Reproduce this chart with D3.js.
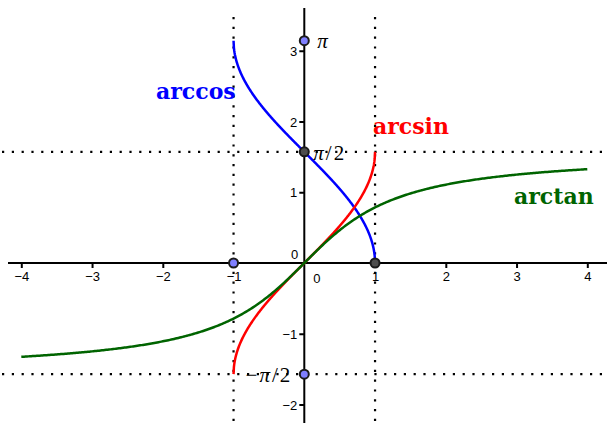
<!DOCTYPE html>
<html>
<head>
<meta charset="utf-8">
<script src="https://cdn.jsdelivr.net/npm/d3@7"></script>
<style>
  html, body { margin: 0; padding: 0; background: #fff; }
  svg { display: block; }
</style>
</head>
<body>
<svg id="chart" width="607" height="423"></svg>
<script>
// Sample abscissas for the inverse trig curves
const xsInner = d3.range(-1, 1.0001, 0.005).concat([1]).filter((v, i, a) => a.indexOf(v) === i);
const xsOuter = d3.range(-4, 4.0001, 0.02);
const xTicks = [-4, -3, -2, -1, 1, 2, 3, 4];
const yTicks = [-2, -1, 1, 2, 3];
const markedPoints = [
  { x: -1, y: 0, fill: "#7f7fff" },
  { x: 1, y: 0, fill: "#4d4d4d" },
  { x: 0, y: Math.PI, fill: "#7f7fff" },
  { x: 0, y: Math.PI / 2, fill: "#4d4d4d" },
  { x: 0, y: -Math.PI / 2, fill: "#7f7fff" }
];

const curves = [
  { name: "arccos", color: "#0000ff", f: Math.acos, xs: xsInner, label: [-2.096, 2.318] },
  { name: "arcsin", color: "#ff0000", f: Math.asin, xs: xsInner, label: [0.971, 1.823] },
  { name: "arctan", color: "#006400", f: Math.atan, xs: xsOuter, label: [2.964, 0.834] }
];

const svg = d3.select("#chart");
const W = 607, H = 423;
const unit = 70.75;
const ox = 304.3, oy = 263;
const x = d3.scaleLinear().domain([0, 1]).range([ox, ox + unit]);
const y = d3.scaleLinear().domain([0, 1]).range([oy, oy - unit]);

// dotted guide lines
const dots = svg.append("g").attr("stroke", "#000").attr("stroke-width", 2.2)
  .attr("stroke-dasharray", "2.2,7.6");
[-1, 1].forEach(v => dots.append("line")
  .attr("x1", x(v)).attr("x2", x(v)).attr("y1", 17).attr("y2", H));
[Math.PI / 2, -Math.PI / 2].forEach(v => dots.append("line")
  .attr("x1", 2).attr("x2", W).attr("y1", y(v)).attr("y2", y(v)));

// axes
const xAxis = d3.axisBottom(x).tickValues(xTicks).tickSize(5)
  .tickFormat(d => d < 0 ? "\u2212" + Math.abs(d) : d);
const gx = svg.append("g").attr("transform", `translate(0,${oy})`).call(xAxis);
gx.select(".domain").remove();
gx.append("line").attr("x1", 8).attr("x2", W).attr("stroke", "#000").attr("stroke-width", 2);

const yAxis = d3.axisLeft(y).tickValues(yTicks).tickSize(5)
  .tickFormat(d => d < 0 ? "\u2212" + Math.abs(d) : d);
const gy = svg.append("g").attr("transform", `translate(${ox},0)`).call(yAxis);
gy.select(".domain").remove();
gy.append("line").attr("y1", 8).attr("y2", H).attr("stroke", "#000").attr("stroke-width", 2);

svg.selectAll(".tick line").attr("stroke", "#000").attr("stroke-width", 2);
svg.selectAll(".tick text").attr("font-family", "Liberation Sans, Arial, sans-serif")
  .attr("font-size", 13).attr("fill", "#000");
gx.selectAll(".tick text").attr("dy", "0.85em").attr("y", 7);
gy.selectAll(".tick text").attr("x", -7).attr("dy", "0.35em");

// origin labels
svg.append("text").attr("x", x(0) - 6).attr("y", y(0) - 4).attr("text-anchor", "end")
  .attr("font-family", "Liberation Sans, Arial, sans-serif").attr("font-size", 13).text("0");
svg.append("text").attr("x", x(0) + 9).attr("y", y(0) + 20)
  .attr("font-family", "Liberation Sans, Arial, sans-serif").attr("font-size", 13).text("0");

// curves
const line = d3.line();
curves.forEach(c => {
  const pts = c.xs.map(v => [x(v), y(c.f(v))]);
  svg.append("path").attr("d", line(pts)).attr("fill", "none")
    .attr("stroke", c.color).attr("stroke-width", 2.5).attr("stroke-linejoin", "round");
  svg.append("text").attr("x", x(c.label[0])).attr("y", y(c.label[1]))
    .attr("font-family", "DejaVu Serif, Liberation Serif, serif").attr("font-weight", "bold")
    .attr("font-size", 22).attr("fill", c.color).text(c.name);
});

// marked points
svg.selectAll("circle.pt").data(markedPoints).join("circle").attr("class", "pt")
  .attr("cx", d => x(d.x)).attr("cy", d => y(d.y)).attr("r", 4.5)
  .attr("fill", d => d.fill).attr("stroke", "#1a1a1a").attr("stroke-width", 2);

// value labels on the y axis: italic pi, upright sign and fraction
const serif = "Liberation Serif, Times New Roman, serif";
function mathLabel(px, py, parts, anchor) {
  const t = svg.append("text").attr("x", px).attr("y", py).attr("text-anchor", anchor || "start")
    .attr("font-family", serif).attr("font-size", 21).attr("letter-spacing", 2);
  parts.forEach(p => t.append("tspan").attr("font-style", p.italic ? "italic" : "normal").text(p.s));
}
mathLabel(x(0) + 13, y(Math.PI) + 7, [{ s: "\u03c0", italic: true }]);
mathLabel(x(0) + 9, y(Math.PI / 2) + 8, [{ s: "\u03c0", italic: true }, { s: "/2" }]);
mathLabel(x(0) - 12, y(-Math.PI / 2) + 8,
  [{ s: "\u2212" }, { s: "\u03c0", italic: true }, { s: "/2" }], "end");
</script>
</body>
</html>
